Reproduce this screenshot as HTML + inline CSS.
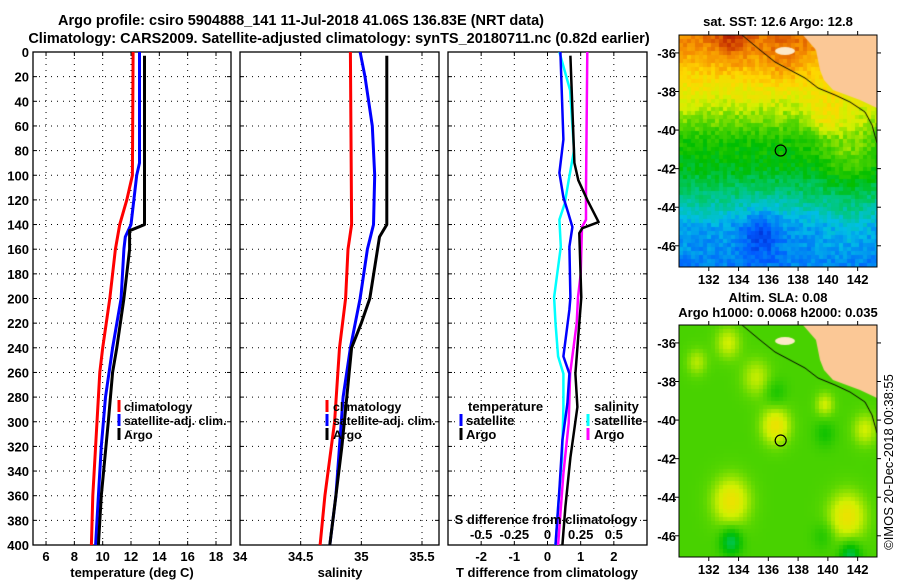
<!DOCTYPE html>
<html><head><meta charset="utf-8">
<style>
body{margin:0;background:#fff;width:900px;height:580px;overflow:hidden;position:relative;font-family:"Liberation Sans",sans-serif;}
svg text{font-family:"Liberation Sans",sans-serif;font-weight:bold;font-size:13px;fill:#000;}
canvas{position:absolute;}
</style></head>
<body>
<svg id="fig" width="900" height="580" style="position:absolute;left:0;top:0">
<text x="301" y="25" text-anchor="middle" style="font-size:14.5px">Argo profile: csiro 5904888_141 11-Jul-2018 41.06S 136.83E (NRT data)</text>
<text x="339" y="43" text-anchor="middle" style="font-size:14.5px">Climatology: CARS2009. Satellite-adjusted climatology: synTS_20180711.nc (0.82d earlier)</text>
<text x="778" y="26" text-anchor="middle">sat. SST: 12.6 Argo: 12.8</text>
<text x="778" y="302" text-anchor="middle">Altim. SLA: 0.08</text>
<text x="778" y="317" text-anchor="middle">Argo h1000: 0.0068 h2000: 0.035</text>
<text transform="translate(893,462) rotate(-90)" text-anchor="middle" style="font-weight:normal">©IMOS 20-Dec-2018 00:38:55</text>
</svg>
<canvas id="sst" width="198" height="232" style="left:679px;top:35px"></canvas>
<canvas id="sla" width="198" height="232" style="left:679px;top:325px"></canvas>
<svg id="ov" width="900" height="580" style="position:absolute;left:0;top:0"></svg>
<script>
// ---- data ----
const depthTicks=[0,20,40,60,80,100,120,140,160,180,200,220,240,260,280,300,320,340,360,380,400];
const tempTicks=[6,8,10,12,14,16,18];
const salTicks=[34,34.5,35,35.5];
const salTickLabels=["34","34.5","35","35.5"];
const tdTicks=[-2,-1,0,1,2];
const sdTickLabels=["-0.5","-0.25","0","0.25","0.5"];
const sdTicks=[-0.5,-0.25,0,0.25,0.5];

const tClimDepth=[0,100,120,140,160,200,240,260,300,360,400];
const tClim=[12.15,12.1,11.7,11.2,10.9,10.5,10.0,9.8,9.6,9.3,9.2];
const tSatDepth=[0,90,100,140,150,160,200,240,280,320,360,400];
const tSat=[12.6,12.6,12.4,12.0,11.6,11.5,11.3,10.7,10.2,9.9,9.7,9.5];
const tArgoDepth=[3,140,145,160,200,240,260,300,360,400];
const tArgo=[12.95,12.95,11.9,11.9,11.5,11.0,10.7,10.4,9.9,9.7];

const sClimDepth=[0,140,160,200,240,300,360,400];
const sClim=[34.91,34.92,34.89,34.87,34.82,34.78,34.70,34.66];
const sSatDepth=[0,20,60,100,140,160,200,240,280,320,360,400];
const sSat=[34.99,35.03,35.09,35.11,35.10,35.05,34.99,34.91,34.85,34.82,34.79,34.74];
const sArgoDepth=[3,140,150,200,220,240,280,320,360,400];
const sArgo=[35.21,35.21,35.15,35.07,35.0,34.92,34.88,34.84,34.79,34.74];

const dTSatDepth=[0,71,98,118,131,142,158,199,209,247,261,285,315,355,400];
const dTSat=[0.39,0.48,0.36,0.48,0.63,0.75,0.66,0.69,0.66,0.48,0.66,0.60,0.45,0.36,0.24];
const dTArgoDepth=[3,90,104,120,138,143,147,199,220,261,288,329,369,400];
const dTArgo=[0.69,0.81,0.93,1.20,1.54,1.05,0.96,1.02,0.96,0.84,0.90,0.69,0.54,0.45];
const dSSatDepth=[0,31,80,104,123,136,158,199,220,247,261,288,329,369,400];
const dSSat=[0.09,0.17,0.20,0.16,0.13,0.09,0.10,0.05,0.06,0.08,0.12,0.12,0.11,0.08,0.06];
const dSArgoDepth=[0,112,136,142,180,199,220,261,301,342,400];
const dSArgo=[0.30,0.29,0.29,0.26,0.25,0.23,0.22,0.17,0.16,0.12,0.08];

const mapLatTicks=[-36,-38,-40,-42,-44,-46];
const mapLonTicks=[132,134,136,138,140,142];
const argoLon=136.83, argoLat=-41.06;

// ---- drawing ----
const NS="http://www.w3.org/2000/svg";
const fig=document.getElementById('fig');
function el(tag,attrs,parent){const e=document.createElementNS(NS,tag);for(const k in attrs)e.setAttribute(k,attrs[k]);(parent||fig).appendChild(e);return e;}
const yTop=52,yBot=545;
function yD(d){return yTop+d*(yBot-yTop)/400;}
function panel(x0,x1,xmin,xmax,name){
  const sx=v=>x0+(v-xmin)*(x1-x0)/(xmax-xmin);
  return {x0,x1,sx,name};
}
const P1=panel(33,231,5.08,19.06,'temperature');
const P2=panel(240,439,34,35.64,'salinity');
const P3=panel(448,647,-3,3,'difference');

function frame(P,xt,xl,showY){
  const g=el('g',{});
  
  
  depthTicks.forEach((d,i)=>{
    if(i>0&&i<depthTicks.length-1){
      const gl=el('line',{x1:P.x0,x2:P.x1,y1:yD(d),y2:yD(d),stroke:'#000','stroke-width':1,'stroke-dasharray':'1,5'},g);
      
      
    }
    el('line',{x1:P.x0,x2:P.x0+4,y1:yD(d),y2:yD(d),stroke:'#000'},g);
    el('line',{x1:P.x1-4,x2:P.x1,y1:yD(d),y2:yD(d),stroke:'#000'},g);
    if(showY){
      const t=el('text',{x:P.x0-4,y:yD(d)+5,'text-anchor':'end'},g);
      t.textContent=d;
      
      
    }
  });
  xt.forEach((v,i)=>{
    const x=P.sx(v);
    if(x>P.x0+1&&x<P.x1-1){
      const gl=el('line',{x1:x,x2:x,y1:yTop,y2:yBot,stroke:'#000','stroke-width':1,'stroke-dasharray':'1,5'},g);
      
      
    }
    el('line',{x1:x,x2:x,y1:yBot,y2:yBot-4,stroke:'#000'},g);
    el('line',{x1:x,x2:x,y1:yTop,y2:yTop+4,stroke:'#000'},g);
    const t=el('text',{x:x,y:561,'text-anchor':'middle'},g);
    t.textContent=xl[i];
    
    
  });
  const r=el('rect',{x:P.x0,y:yTop,width:P.x1-P.x0,height:yBot-yTop,fill:'none',stroke:'#000','stroke-width':1.3},g);
  
  
  return g;
}
function series(P,depths,vals,color,w,name,scale){
  const pts=depths.map((d,i)=>P.sx(vals[i]*(scale||1)).toFixed(1)+','+yD(d).toFixed(1)).join(' ');
  const p=el('polyline',{points:pts,fill:'none',stroke:color,'stroke-width':w,'stroke-linejoin':'round'});
  
  
}
function label(x,y,txt,name,anchor,size){
  const t=el('text',{x:x,y:y,'text-anchor':anchor||'start'});
  if(size)t.setAttribute('style','font-size:'+size+'px');
  t.textContent=txt;
  
  
}
function legMark(x,y,color,name){
  const r=el('rect',{x:x-1.5,y:y-11,width:3,height:12,fill:color});
  
  
}

frame(P1,tempTicks,tempTicks.map(String),true);
frame(P2,salTicks,salTickLabels,false);
frame(P3,tdTicks,tdTicks.map(String),false);

series(P1,tClimDepth,tClim,'#f00',3,'temperature-climatology-line');
series(P1,tSatDepth,tSat,'#00f',3,'temperature-satellite-line');
series(P1,tArgoDepth,tArgo,'#000',3,'temperature-argo-line');
series(P2,sClimDepth,sClim,'#f00',3,'salinity-climatology-line');
series(P2,sSatDepth,sSat,'#00f',3,'salinity-satellite-line');
series(P2,sArgoDepth,sArgo,'#000',3,'salinity-argo-line');
series(P3,dSSatDepth,dSSat,'#0ff',2.5,'s-diff-satellite-line',4);
series(P3,dSArgoDepth,dSArgo,'#f0f',2.5,'s-diff-argo-line',4);
series(P3,dTSatDepth,dTSat,'#00f',2.5,'t-diff-satellite-line');
series(P3,dTArgoDepth,dTArgo,'#000',2.5,'t-diff-argo-line');

// legends
[['climatology','#f00'],['satellite-adj. clim.','#00f'],['Argo','#000']].forEach((e,i)=>{
  legMark(119,411+i*14,e[1],'legend-marker');
  label(124,411+i*14,e[0],'legend-entry',null,12.3);
  legMark(327,411+i*14,e[1],'legend-marker');
  label(333,411+i*14,e[0],'legend-entry',null,12.3);
});
label(468,411,'temperature','legend-header');
legMark(461,425,'#00f','legend-marker'); label(466,425,'satellite','legend-entry');
legMark(461,439,'#000','legend-marker'); label(466,439,'Argo','legend-entry');
label(594,411,'salinity','legend-header');
legMark(588,425,'#0ff','legend-marker'); label(594,425,'satellite','legend-entry');
legMark(588,439,'#f0f','legend-marker'); label(594,439,'Argo','legend-entry');
label(546,524,'S difference from climatology','s-axis-title','middle');
sdTicks.forEach((v,i)=>label(P3.sx(v*4),539,sdTickLabels[i],'s-tick-label','middle'));
label(132,577,'temperature (deg C)','x-axis-title-temperature','middle');
label(340,577,'salinity','x-axis-title-salinity','middle');
label(547,577,'T difference from climatology','x-axis-title-difference','middle');

// ---- maps ----
const lon0=130.0,lon1=143.3,lat0=-35.07,lat1=-47.1;
function hash(i,j){let h=i*374761393+j*668265263;h=(h^(h>>13))*1274126177;h=h^(h>>16);return ((h>>>0)%1000)/1000;}
function ramp(v,stops){v=Math.max(0,Math.min(1,v));for(let k=1;k<stops.length;k++){if(v<=stops[k][0]){const a=stops[k-1],b=stops[k],t=(v-a[0])/(b[0]-a[0]);return 'rgb('+[1,2,3].map(c=>Math.round(a[c]+(b[c]-a[c])*t)).join(',')+')';}}return 'rgb(150,0,0)';}
const jet=[[0,0,0,160],[0.13,0,90,255],[0.25,0,190,230],[0.35,0,200,120],[0.45,0,190,0],[0.55,90,215,0],[0.63,210,240,0],[0.72,255,215,0],[0.82,245,140,0],[0.92,205,60,0],[1,150,0,0]];
function gauss(lon,lat,cl,ct,s){return Math.exp(-((lon-cl)**2+(lat-ct)**2)/(2*s*s));}
function pw(x,pts){if(x>=pts[0][0])return pts[0][1];for(let k=1;k<pts.length;k++){if(x>=pts[k][0]){const a=pts[k-1],b=pts[k];return a[1]+(b[1]-a[1])*(x-a[0])/(b[0]-a[0]);}}return pts[pts.length-1][1];}
const sstLat=[[-35,0.84],[-36.5,0.76],[-38,0.67],[-39.5,0.57],[-40.5,0.48],[-42,0.43],[-43.5,0.34],[-45,0.22],[-47,0.18]];
function coastX(y){
  const pts=[[0,124],[15,137],[35,141],[45,145],[55,154],[65,181],[73,198]];
  for(let k=1;k<pts.length;k++){if(y<=pts[k][0]){const a=pts[k-1],b=pts[k];return a[1]+(b[1]-a[1])*(y-a[0])/(b[0]-a[0]);}}return 198;
}
function drawMap(id,fn){
  const c=document.getElementById(id).getContext('2d');
  const cs=4;
  for(let j=0;j<232;j+=cs)for(let i=0;i<198;i+=cs){
    const lon=lon0+(i+2)/198*(lon1-lon0),lat=lat0+(j+2)/232*(lat1-lat0);
    c.fillStyle=fn(lon,lat,i/cs,j/cs);c.fillRect(i,j,cs,cs);
  }
  c.fillStyle='#fbc896';c.beginPath();c.moveTo(124,0);
  for(let y=0;y<=73;y+=1)c.lineTo(coastX(y),y);
  c.lineTo(198,73);c.lineTo(198,0);c.closePath();c.fill();
  c.fillStyle='#fde9c8';c.beginPath();c.ellipse(106,16,10,4,0,0,Math.PI*2);c.fill();
  c.strokeStyle='#000';c.lineWidth=1;c.beginPath();
  [[63,0],[81,15],[96,27],[111,35],[126,43],[139,53],[156,60],[171,67],[186,77],[193,90],[198,108]].forEach((p,k)=>k?c.lineTo(p[0],p[1]):c.moveTo(p[0],p[1]));
  c.stroke();
}
drawMap('sst',(lon,lat,i,j)=>{
  let v=pw(lat,sstLat);
  v+=0.1*gauss(lon,lat,141.5,-41,1.4)+0.08*gauss(lon,lat,139.8,-39.3,0.8);
  v+=0.1*gauss(lon,lat,133.5,-35.3,0.9)+0.06*gauss(lon,lat,137,-36.2,1);
  v-=0.1*gauss(lon,lat,135.5,-45.3,1.0);
  v+=0.04*gauss(lon,lat,141.5,-44.8,1);
  v+=(hash(i,j)-0.5)*0.07;
  return ramp(v,jet);
});
drawMap('sla',(lon,lat,i,j)=>{
  let v=0.53;
  v+=0.15*gauss(lon,lat,136.5,-40.3,0.7)+0.15*gauss(lon,lat,133.5,-44.2,0.9)+0.15*gauss(lon,lat,141.3,-45,0.9);
  v+=0.1*gauss(lon,lat,133.3,-36,0.6)+0.08*gauss(lon,lat,131.2,-37,0.5)+0.09*gauss(lon,lat,135.2,-37.8,0.7)+0.1*gauss(lon,lat,139.8,-39.2,0.45)+0.1*gauss(lon,lat,142.5,-40.5,0.6);
  v-=0.15*gauss(lon,lat,133.5,-46.3,0.5)+0.15*gauss(lon,lat,141.5,-47,0.5)+0.06*gauss(lon,lat,136.5,-38.6,0.5)+0.06*gauss(lon,lat,139.8,-40.7,0.5)+0.05*gauss(lon,lat,139.7,-46,0.5);
  return ramp(v,jet);
});
const ov=document.getElementById('ov');
function oel(tag,attrs){return el(tag,attrs,ov);}
[[35,267,'sst'],[325,557,'sla']].forEach(m=>{
  const t=m[0],b=m[1];
  const sx=lon=>679+(lon-lon0)/(lon1-lon0)*198, sy=lat=>t+(lat-lat0)/(lat1-lat0)*(b-t);
  const f=oel('rect',{x:679,y:t,width:198,height:b-t,fill:'none',stroke:'#000','stroke-width':1});
  
  
  mapLatTicks.forEach(l=>{
    oel('line',{x1:679,x2:675,y1:sy(l),y2:sy(l),stroke:'#000'});
    oel('line',{x1:877,x2:881,y1:sy(l),y2:sy(l),stroke:'#000'});
    const tx=oel('text',{x:676,y:sy(l)+5,'text-anchor':'end'});
    tx.textContent=l;
    
    
  });
  mapLonTicks.forEach(l=>{
    oel('line',{x1:sx(l),x2:sx(l),y1:b,y2:b+4,stroke:'#000'});
    oel('line',{x1:sx(l),x2:sx(l),y1:t,y2:t-4,stroke:'#000'});
    const tx=oel('text',{x:sx(l),y:b+17,'text-anchor':'middle'});
    tx.textContent=l;
    
    
  });
  const c=oel('circle',{cx:sx(argoLon),cy:sy(argoLat),r:5.5,fill:'none',stroke:'#000','stroke-width':1.2});
  
  
});
</script>
</body></html>
